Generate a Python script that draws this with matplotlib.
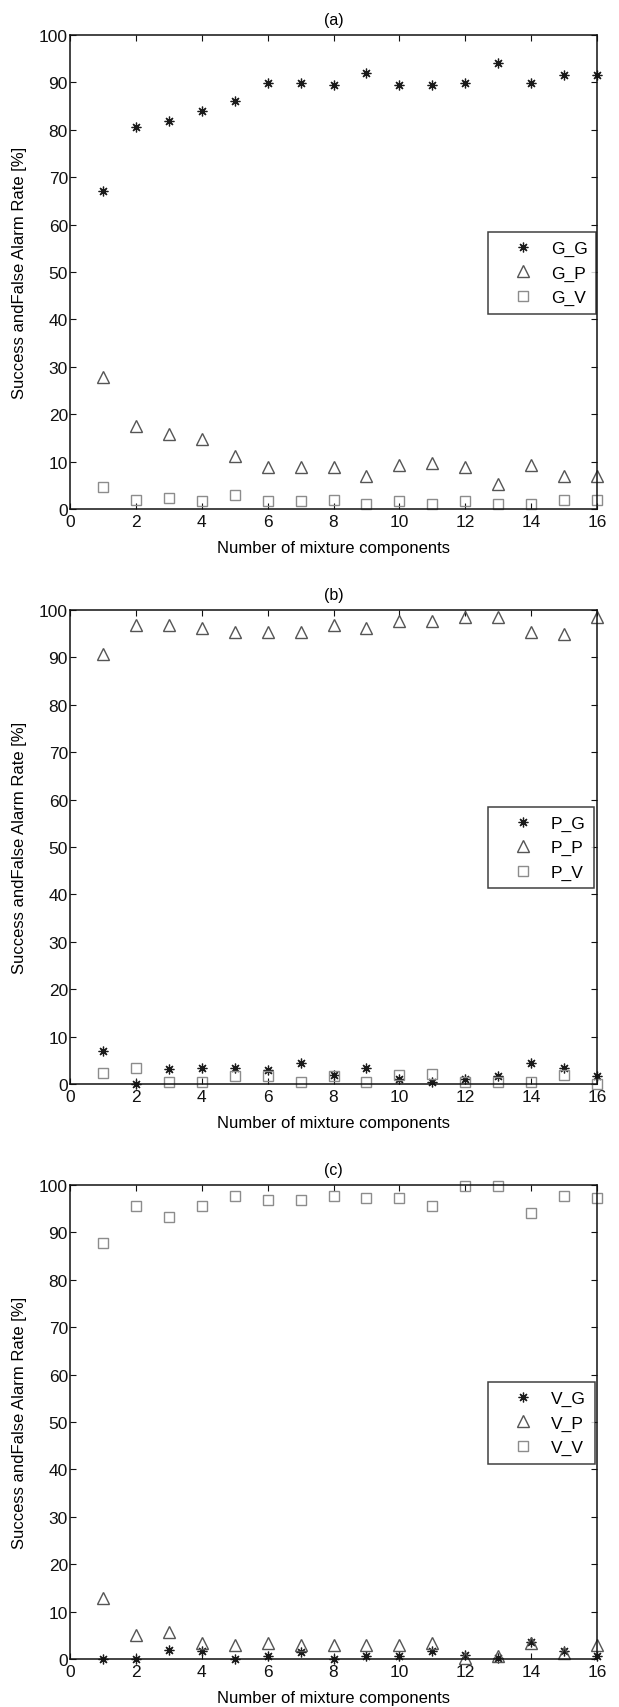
import matplotlib

matplotlib.use("Agg")
import matplotlib.pyplot as plt

plt.rcParams["font.family"] = ["Liberation Sans", "DejaVu Sans"]

components = list(range(1, 17))

g_g = [67.2, 80.6, 81.9, 84.0, 86.1, 89.8, 89.8, 89.5, 91.9, 89.5, 89.5, 89.8, 94.2, 89.8, 91.5, 91.5]
g_p = [27.9, 17.5, 15.8, 14.8, 11.1, 8.9, 8.9, 8.9, 7.0, 9.3, 9.8, 8.9, 5.3, 9.3, 6.9, 6.9]
g_v = [4.6, 2.0, 2.3, 1.7, 3.0, 1.7, 1.7, 2.0, 1.1, 1.7, 1.1, 1.7, 1.1, 1.0, 2.0, 2.0]

p_g = [6.9, 0.0, 3.2, 3.4, 3.4, 3.0, 4.5, 1.9, 3.4, 1.1, 0.4, 1.1, 1.7, 4.5, 3.4, 1.7]
p_p = [90.8, 96.8, 96.8, 96.2, 95.3, 95.3, 95.3, 96.8, 96.2, 97.7, 97.7, 98.5, 98.5, 95.3, 94.9, 98.5]
p_v = [2.4, 3.4, 0.4, 0.4, 1.7, 1.7, 0.4, 1.7, 0.4, 1.9, 2.1, 0.4, 0.4, 0.4, 1.9, 0.0]

v_g = [0.0, 0.0, 2.0, 1.7, 0.0, 0.6, 1.4, 0.0, 0.6, 0.6, 1.7, 0.8, 0.2, 3.5, 1.7, 0.6]
v_p = [12.9, 5.0, 5.7, 3.4, 3.0, 3.4, 3.0, 3.0, 3.0, 3.0, 3.4, 0.2, 0.6, 3.4, 1.2, 3.0]
v_v = [87.7, 95.6, 93.3, 95.6, 97.6, 96.9, 96.9, 97.6, 97.2, 97.2, 95.6, 99.8, 99.8, 94.2, 97.6, 97.2]

panels = [
    ("(a)", ["G_G", "G_P", "G_V"], [g_g, g_p, g_v]),
    ("(b)", ["P_G", "P_P", "P_V"], [p_g, p_p, p_v]),
    ("(c)", ["V_G", "V_P", "V_V"], [v_g, v_p, v_v]),
]

# matlab-like '*', '^' and 's' markers in three greys
marker_styles = [
    dict(marker=(8, 2, 0), markersize=7, color="#1a1a1a", markeredgewidth=0.9),
    dict(marker="^", markersize=8.5, markerfacecolor="none", markeredgecolor="#555555", markeredgewidth=1.0),
    dict(marker="s", markersize=7.5, markerfacecolor="none", markeredgecolor="#8c8c8c", markeredgewidth=1.0),
]

fig = plt.figure(figsize=(6.19, 17.08), dpi=100)
bottoms = [0.7014, 0.3648, 0.0281]

for (title, labels, series), bottom in zip(panels, bottoms):
    ax = fig.add_axes([0.1131, bottom, 0.8514, 0.2775])
    for label, values, style in zip(labels, series, marker_styles):
        ax.plot(components, values, linestyle="none", label=label, clip_on=False, **style)

    ax.set_xlim(0, 16)
    ax.set_ylim(0, 100)
    ax.set_xticks(range(0, 17, 2))
    ax.set_yticks(range(0, 101, 10))
    ax.tick_params(direction="in", top=True, right=True, length=4, width=0.8, labelsize=12.5, colors="#111111")
    ax.tick_params(axis="y", pad=1.5)
    ax.tick_params(axis="x", pad=3.5)
    for spine in ax.spines.values():
        spine.set_linewidth(1.1)
        spine.set_color("#111111")

    ax.set_title(title, fontsize=11.5, pad=8)
    ax.set_xlabel("Number of mixture components", fontsize=12)
    ax.xaxis.set_label_coords(0.5, -0.082)
    ax.xaxis.label.set_va("center")
    ax.set_ylabel("Success andFalse Alarm Rate [%]", fontsize=12)
    ax.yaxis.set_label_coords(-0.095, 0.5)
    ax.yaxis.label.set_va("center")

    legend = ax.legend(
        loc="upper left",
        bbox_to_anchor=(0.794, 0.584),
        borderaxespad=0,
        fontsize=12.5,
        frameon=True,
        fancybox=False,
        edgecolor="#111111",
        borderpad=0.5,
        handlelength=3.0,
        handletextpad=0.1,
        labelspacing=0.52,
    )
    legend.get_frame().set_linewidth(1.1)

fig.savefig("out.png", dpi=100)
plt.close(fig)
